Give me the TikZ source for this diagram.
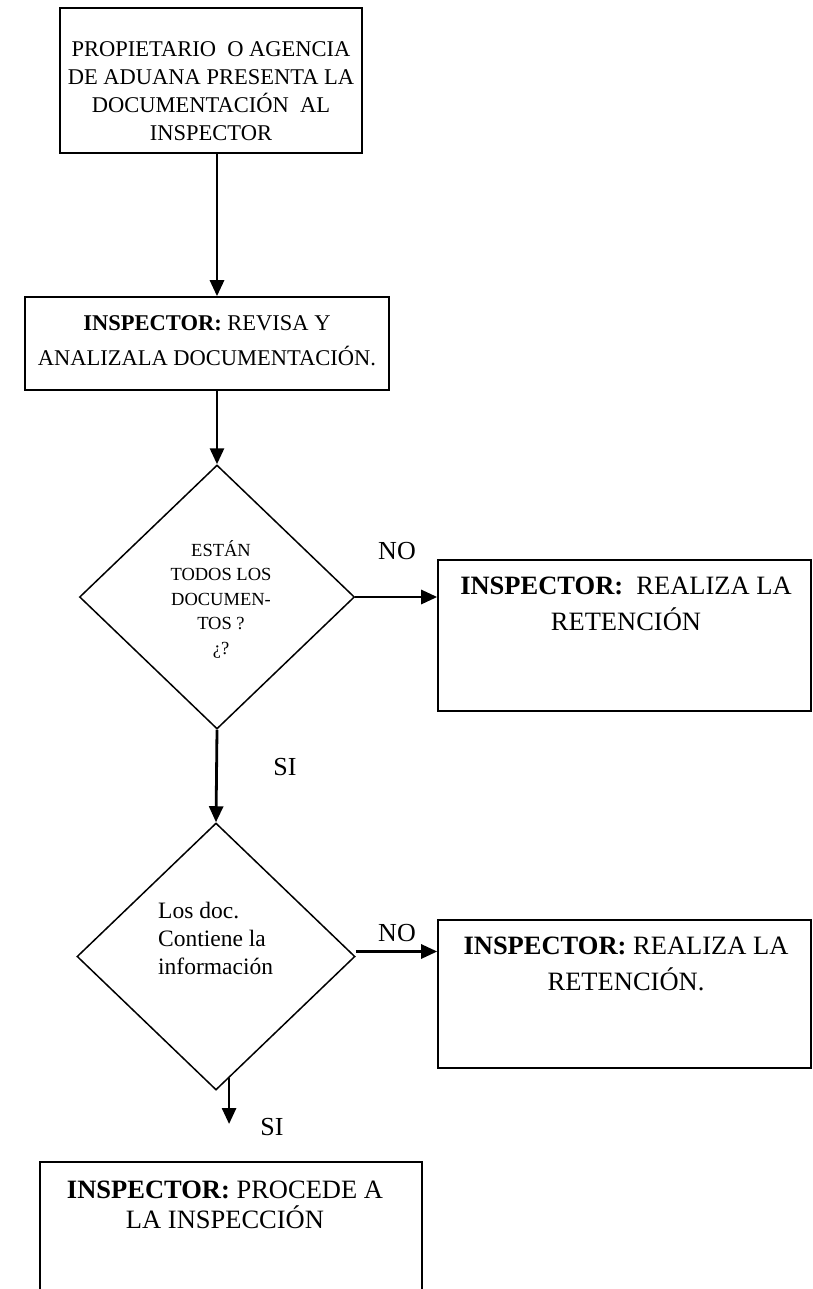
\documentclass[tikz,border=0pt]{standalone}
\usepackage{fontspec}
\setmainfont{Liberation Serif}
\usetikzlibrary{arrows.meta,shapes.geometric,calc}
\begin{document}
\begin{tikzpicture}[x=1pt,y=-1pt,
  box/.style={draw,line width=1.6pt,rectangle,inner sep=0pt},
  dia/.style={draw,line width=1.5pt,diamond,inner sep=0pt},
  txt/.style={align=center,inner sep=0pt},
  lbl/.style={inner sep=0pt,font=\fontsize{26}{30}\selectfont},
  arr/.style={line width=2.8pt,-{Triangle[length=16pt,width=14pt]}}]
\useasboundingbox (0,0) rectangle (812,1289);
\clip (0,0) rectangle (812,1289);
% boxes
\node[box,minimum width=302pt,minimum height=145pt] (b1) at (211,80.5) {};
\node[txt,font=\fontsize{22.5}{28}\selectfont] (t1) at (211,91.5)
  {PROPIETARIO~ O AGENCIA\\DE ADUANA PRESENTA LA\\DOCUMENTACIÓN~ AL\\INSPECTOR};
\node[box,minimum width=364pt,minimum height=93pt] (b2) at (207,343.5) {};
\node[txt,font=\fontsize{22.5}{35}\selectfont] (t2) at (207,340.5)
  {\textbf{INSPECTOR:} REVISA Y\\ANALIZALA DOCUMENTACIÓN.};
\node[dia,minimum width=275pt,minimum height=264pt] (d1) at (217,597) {};
\node[txt,font=\fontsize{18.5}{24.5}\selectfont] (t3) at (221,599)
  {ESTÁN\\TODOS LOS\\DOCUMEN-\\TOS ?\\¿?};
\node[box,minimum width=373pt,minimum height=151pt] (b3) at (624.5,635.5) {};
\node[txt,font=\fontsize{26.5}{36}\selectfont] (t4) at (626,604)
  {\textbf{INSPECTOR:}~ REALIZA LA\\RETENCIÓN};
\node[dia,minimum width=278pt,minimum height=267pt] (d2) at (216,956.5) {};
\node[txt,align=left,anchor=west,font=\fontsize{23.5}{28}\selectfont] (t5) at (158,938)
  {Los doc.\\Contiene la\\información};
\node[box,minimum width=373pt,minimum height=148pt] (b4) at (624.5,994) {};
\node[txt,font=\fontsize{26.5}{36}\selectfont] (t6) at (626,964)
  {\textbf{INSPECTOR:} REALIZA LA\\RETENCIÓN.};
\node[box,minimum width=382pt,minimum height=138pt] (b5) at (231,1231) {};
\node[txt,font=\fontsize{26.5}{30}\selectfont] (t7) at (225,1205)
  {\textbf{INSPECTOR:} PROCEDE A\\LA INSPECCIÓN};
% labels
\node[lbl] (no1) at (397,551) {NO};
\node[lbl] (no2) at (397,933) {NO};
\node[lbl] (si1) at (285,767) {SI};
\node[lbl] (si2) at (272,1127) {SI};
% connectors
\draw[arr] (b1.south -| d1.north) -- (b2.north -| d1.north);
\draw[arr] (b2.south -| d1.north) -- (d1.north);
\draw[arr] (d1.east) -- (d1.east -| b3.west);
\draw[arr] (d1.south) -- (d2.north);
\draw[arr] ([yshift=5pt]d2.east) -- ([yshift=5pt]d2.east -| b4.west);
\coordinate (e1) at ($(d2.south)!0.0935!(d2.east)$);
\coordinate (s2end) at (229,1124);
\draw[arr] (e1) -- (e1 |- s2end);
\end{tikzpicture}
\end{document}
